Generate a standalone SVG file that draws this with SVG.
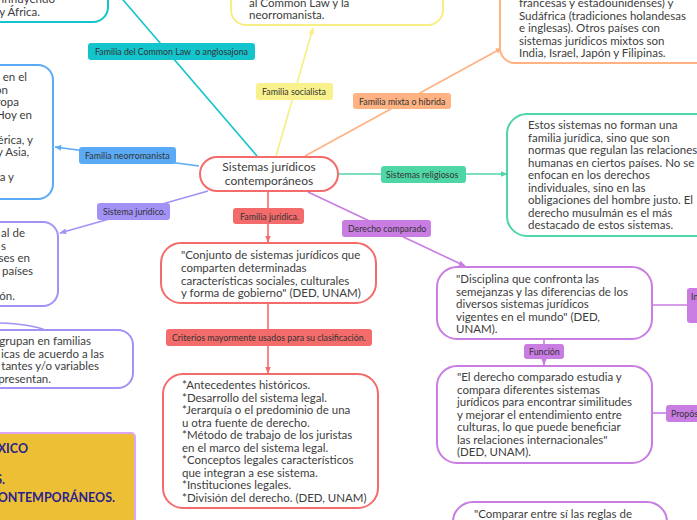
<svg xmlns="http://www.w3.org/2000/svg" width="697" height="520" viewBox="0 0 697 520">
<style>
.t{font-family:Lato,"Open Sans","Noto Sans",sans-serif;font-size:11.5px;fill:#3d3d3d}
.l{font-family:Lato,"Open Sans","Noto Sans",sans-serif;font-size:8.8px;fill:#333}
.c{font-family:Lato,"Open Sans","Noto Sans",sans-serif;font-size:12px;fill:#3d3d3d}
.h{font-family:Lato,"Open Sans",sans-serif;font-size:12.5px;font-weight:700;fill:#2b1f8f}
.box{fill:#fff;stroke-width:2}
.ln{fill:none;stroke-width:1.6}
</style>
<defs>
<marker id="aY" viewBox="0 0 10 10" refX="9" refY="5" markerWidth="7" markerHeight="7" orient="auto" markerUnits="userSpaceOnUse"><path d="M0,1 L10,5 L0,9 z" fill="#f7ee84"/></marker>
<marker id="aO" viewBox="0 0 10 10" refX="9" refY="5" markerWidth="7" markerHeight="7" orient="auto" markerUnits="userSpaceOnUse"><path d="M0,1 L10,5 L0,9 z" fill="#ffb282"/></marker>
<marker id="aG" viewBox="0 0 10 10" refX="9" refY="5" markerWidth="7" markerHeight="7" orient="auto" markerUnits="userSpaceOnUse"><path d="M0,1 L10,5 L0,9 z" fill="#4fd6a5"/></marker>
<marker id="aB" viewBox="0 0 10 10" refX="9" refY="5" markerWidth="7" markerHeight="7" orient="auto" markerUnits="userSpaceOnUse"><path d="M0,1 L10,5 L0,9 z" fill="#5aaaf5"/></marker>
<marker id="aL" viewBox="0 0 10 10" refX="9" refY="5" markerWidth="7" markerHeight="7" orient="auto" markerUnits="userSpaceOnUse"><path d="M0,1 L10,5 L0,9 z" fill="#a292f6"/></marker>
<marker id="aR" viewBox="0 0 10 10" refX="9" refY="5" markerWidth="7" markerHeight="7" orient="auto" markerUnits="userSpaceOnUse"><path d="M0,1 L10,5 L0,9 z" fill="#f46b6b"/></marker>
<marker id="aP" viewBox="0 0 10 10" refX="9" refY="5" markerWidth="7" markerHeight="7" orient="auto" markerUnits="userSpaceOnUse"><path d="M0,1 L10,5 L0,9 z" fill="#c97ce2"/></marker>
</defs>
<rect width="697" height="520" fill="#fff"/>

<g id="connectors">
<line class="ln" x1="257" y1="156" x2="118" y2="-6" stroke="#14c4cc"/>
<line class="ln" x1="276" y1="156" x2="313" y2="28" stroke="#f7ee84" marker-end="url(#aY)"/>
<line class="ln" x1="305" y1="156" x2="502" y2="48" stroke="#ffb282" marker-end="url(#aO)"/>
<line class="ln" x1="338" y1="174" x2="507" y2="174" stroke="#4fd6a5" marker-end="url(#aG)"/>
<line class="ln" x1="199" y1="166" x2="55" y2="147" stroke="#5aaaf5" marker-end="url(#aB)"/>
<line class="ln" x1="208" y1="191" x2="60" y2="233" stroke="#a292f6" marker-end="url(#aL)"/>
<path class="ln" d="M0,323 Q30,324 45,330" stroke="#a292f6"/>
<line class="ln" x1="268" y1="191" x2="268" y2="242" stroke="#f46b6b" marker-end="url(#aR)"/>
<line class="ln" x1="268" y1="303" x2="268" y2="373" stroke="#f46b6b" marker-end="url(#aR)"/>
<line class="ln" x1="308" y1="192" x2="465" y2="266" stroke="#c97ce2" marker-end="url(#aP)"/>
<line class="ln" x1="652" y1="305" x2="688" y2="305" stroke="#c97ce2"/>
<line class="ln" x1="544" y1="339" x2="544" y2="365" stroke="#c97ce2" marker-end="url(#aP)"/>
<line class="ln" x1="652" y1="413" x2="667" y2="413" stroke="#c97ce2"/>
</g>

<g id="node-central">
<rect class="box" x="200" y="157" width="138" height="34" rx="17" stroke="#f46b6b"/>
<text class="c" x="269" y="171" text-anchor="middle">Sistemas jurídicos</text>
<text class="c" x="269" y="185" text-anchor="middle">contemporáneos</text>
</g>

<g id="node-common-law">
<rect class="box" x="-30" y="-60" width="138" height="82" rx="15" stroke="#14c4cc"/>
<text class="t" x="55" y="3" text-anchor="end">, influyendo</text>
<text class="t" x="40" y="16" text-anchor="end">y África.</text>
</g>
<g id="label-common-law">
<rect x="88" y="43" width="167" height="17" rx="3" fill="#14c4cc"/>
<text class="l" x="95" y="55" xml:space="preserve">Familia del Common Law  o anglosajona</text>
</g>

<g id="node-socialista">
<rect class="box" x="231" y="-60" width="212" height="85" rx="15" stroke="#f7ee84"/>
<text class="t" x="249" y="7">al Common Law y la</text>
<text class="t" x="249" y="19">neorromanista.</text>
</g>
<g id="label-socialista">
<rect x="256" y="83" width="77" height="17" rx="3" fill="#f9f18c"/>
<text class="l" x="262" y="95">Familia socialista</text>
</g>

<g id="node-mixta">
<rect class="box" x="500" y="-60" width="230" height="123" rx="15" stroke="#ffb282"/>
<text class="t" x="519" y="7">francesas y estadounidenses) y</text>
<text class="t" x="519" y="20">Sudáfrica (tradiciones holandesas</text>
<text class="t" x="519" y="32">e inglesas). Otros países con</text>
<text class="t" x="519" y="45">sistemas jurídicos mixtos son</text>
<text class="t" x="519" y="57">India, Israel, Japón y Filipinas.</text>
</g>
<g id="label-mixta">
<rect x="353" y="93" width="98" height="16" rx="3" fill="#ffb282"/>
<text class="l" x="359" y="104.5">Familia mixta o híbrida</text>
</g>

<g id="node-religiosos">
<rect class="box" x="507" y="114" width="215" height="122" rx="20" stroke="#4fd6a5"/>
<text class="t" x="528" y="129">Estos sistemas no forman una</text>
<text class="t" x="528" y="141.5">familia jurídica, sino que son</text>
<text class="t" x="528" y="154">normas que regulan las relaciones</text>
<text class="t" x="528" y="166.5">humanas en ciertos países. No se</text>
<text class="t" x="528" y="179">enfocan en los derechos</text>
<text class="t" x="528" y="191.5">individuales, sino en las</text>
<text class="t" x="528" y="204">obligaciones del hombre justo. El</text>
<text class="t" x="528" y="216.5">derecho musulmán es el más</text>
<text class="t" x="528" y="229">destacado de estos sistemas.</text>
</g>
<g id="label-religiosos">
<rect x="381" y="166" width="85" height="17" rx="3" fill="#4fd6a5"/>
<text class="l" x="386" y="178">Sistemas religiosos</text>
</g>

<g id="node-neorromanista">
<rect class="box" x="-100" y="65" width="153" height="134" rx="15" stroke="#5aaaf5"/>
<text class="t" x="27" y="81" text-anchor="end">en el</text>
<text class="t" x="8" y="93.5" text-anchor="end">on</text>
<text class="t" x="19" y="106" text-anchor="end">ropa</text>
<text class="t" x="32" y="118.5" text-anchor="end">Hoy en</text>
<text class="t" x="33" y="143.5" text-anchor="end">érica, y</text>
<text class="t" x="29" y="156" text-anchor="end">y Asia,</text>
<text class="t" x="14" y="181" text-anchor="end">a y</text>
</g>
<g id="label-neorromanista">
<rect x="79" y="147" width="97" height="17" rx="3" fill="#5aaaf5"/>
<text class="l" x="85" y="159">Familia neorromanista</text>
</g>

<g id="node-sistema-juridico">
<rect class="box" x="-100" y="222" width="158" height="84" rx="15" stroke="#a292f6"/>
<text class="t" x="25" y="237" text-anchor="end">al de</text>
<text class="t" x="6" y="249.5" text-anchor="end">s</text>
<text class="t" x="30" y="262" text-anchor="end">ses en</text>
<text class="t" x="33" y="274.5" text-anchor="end">países</text>
<text class="t" x="15" y="299.5" text-anchor="end">ión.</text>
</g>
<g id="label-sistema-juridico">
<rect x="97" y="203" width="73" height="17" rx="3" fill="#a292f6"/>
<text class="l" x="103" y="215">Sistema jurídico.</text>
</g>

<g id="node-familias">
<rect class="box" x="-100" y="330" width="233" height="58" rx="15" stroke="#a292f6"/>
<text class="t" x="91" y="345" text-anchor="end">grupan en familias</text>
<text class="t" x="104" y="358" text-anchor="end">icas de acuerdo a las</text>
<text class="t" x="99" y="370" text-anchor="end">tantes y/o variables</text>
<text class="t" x="51" y="383" text-anchor="end">presentan.</text>
</g>

<g id="node-familia-juridica">
<rect class="box" x="161" y="243" width="215" height="60" rx="20" stroke="#f46b6b"/>
<text class="t" x="181" y="259">"Conjunto de sistemas jurídicos que</text>
<text class="t" x="181" y="272">comparten determinadas</text>
<text class="t" x="181" y="285">características sociales, culturales</text>
<text class="t" x="181" y="297">y forma de gobierno" (DED, UNAM)</text>
</g>
<g id="label-familia-juridica">
<rect x="233" y="208" width="71" height="16" rx="3" fill="#f46b6b"/>
<text class="l" x="240" y="219.5">Familia jurídica.</text>
</g>

<g id="node-criterios">
<rect class="box" x="163" y="374" width="215" height="134" rx="20" stroke="#f46b6b"/>
<text class="t" x="182" y="389">*Antecedentes históricos.</text>
<text class="t" x="182" y="401.5">*Desarrollo del sistema legal.</text>
<text class="t" x="182" y="414">*Jerarquía o el predominio de una</text>
<text class="t" x="182" y="426.5">u otra fuente de derecho.</text>
<text class="t" x="182" y="439">*Método de trabajo de los juristas</text>
<text class="t" x="182" y="451.5">en el marco del sistema legal.</text>
<text class="t" x="182" y="464">*Conceptos legales característicos</text>
<text class="t" x="182" y="476.5">que integran a ese sistema.</text>
<text class="t" x="182" y="489">*Instituciones legales.</text>
<text class="t" x="182" y="501.5">*División del derecho. (DED, UNAM)</text>
</g>
<g id="label-criterios">
<rect x="166" y="329" width="206" height="17" rx="3" fill="#f46b6b"/>
<text class="l" x="172" y="341">Criterios mayormente usados para su clasificación.</text>
</g>

<g id="node-derecho-comparado">
<rect class="box" x="437" y="267" width="215" height="72" rx="20" stroke="#c97ce2"/>
<text class="t" x="456" y="283">"Disciplina que confronta las</text>
<text class="t" x="456" y="295.5">semejanzas y las diferencias de los</text>
<text class="t" x="456" y="308">diversos sistemas jurídicos</text>
<text class="t" x="456" y="320.5">vigentes en el mundo" (DED,</text>
<text class="t" x="456" y="333">UNAM).</text>
</g>
<g id="label-derecho-comparado">
<rect x="342" y="220" width="89" height="17" rx="3" fill="#c97ce2"/>
<text class="l" x="348" y="232">Derecho comparado</text>
</g>

<g id="label-in">
<rect x="687" y="288" width="30" height="35" rx="3" fill="#c97ce2"/>
<text class="l" x="691" y="300">In</text>
</g>

<g id="label-funcion">
<rect x="524" y="344" width="40" height="15" rx="3" fill="#c97ce2"/>
<text class="l" x="529" y="355">Función</text>
</g>

<g id="node-funcion">
<rect class="box" x="437" y="366" width="215" height="97" rx="20" stroke="#c97ce2"/>
<text class="t" x="457" y="381">"El derecho comparado estudia y</text>
<text class="t" x="457" y="393.5">compara diferentes sistemas</text>
<text class="t" x="457" y="406">jurídicos para encontrar similitudes</text>
<text class="t" x="457" y="418.5">y mejorar el entendimiento entre</text>
<text class="t" x="457" y="431">culturas, lo que puede beneficiar</text>
<text class="t" x="457" y="443.5">las relaciones internacionales"</text>
<text class="t" x="457" y="456">(DED, UNAM).</text>
</g>

<g id="label-proposito">
<rect x="666" y="405" width="45" height="17" rx="3" fill="#c97ce2"/>
<text class="l" x="671" y="416.5">Propós</text>
</g>

<g id="node-comparar">
<rect class="box" x="453" y="502" width="214" height="60" rx="20" stroke="#c97ce2"/>
<text class="t" x="553" y="518" text-anchor="middle">"Comparar entre sí las reglas de</text>
</g>

<g id="node-titulo">
<rect x="-100" y="433" width="235" height="120" rx="4" fill="#edbf35" stroke="#dca6f2" stroke-width="2"/>
<text class="h" x="28" y="453" text-anchor="end">XICO</text>
<text class="h" x="5" y="484" text-anchor="end">S.</text>
<text class="h" x="115" y="502" text-anchor="end">CONTEMPORÁNEOS.</text>
</g>
</svg>
